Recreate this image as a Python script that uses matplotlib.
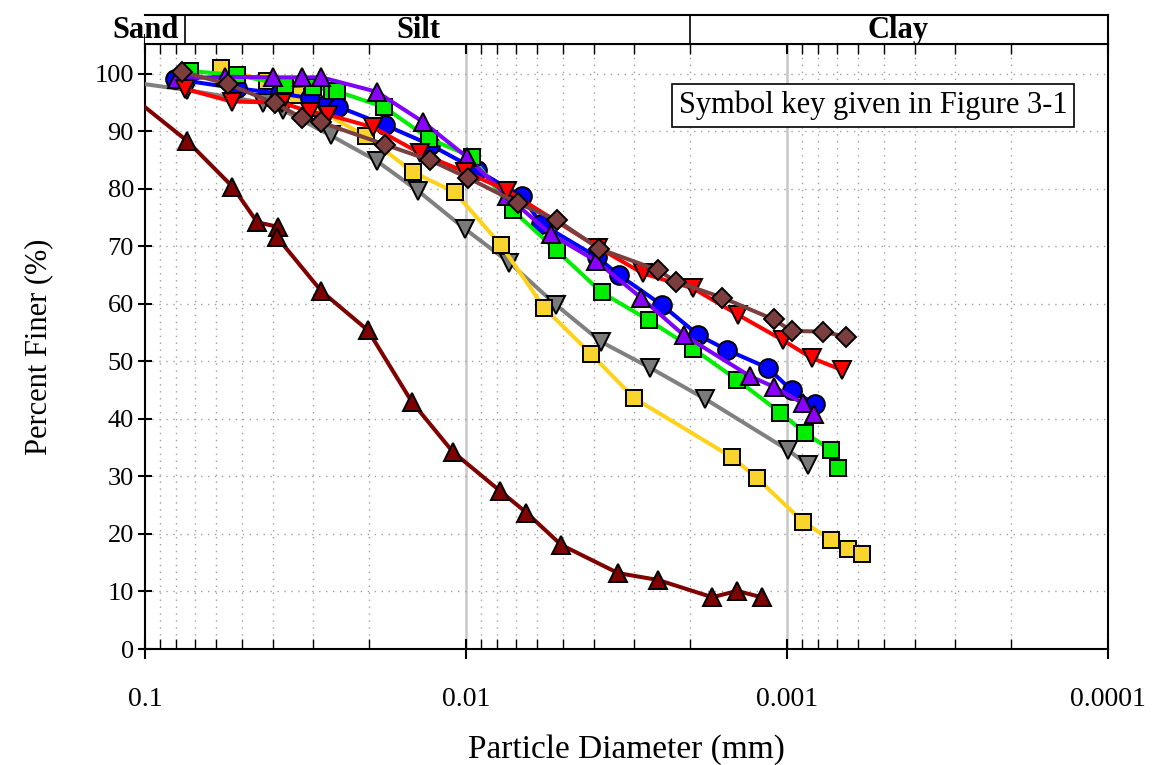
import numpy as np
import matplotlib
matplotlib.use("Agg")
import matplotlib.pyplot as plt
from matplotlib.ticker import FixedLocator, NullFormatter

plt.rcParams['font.family'] = ['Liberation Serif', 'DejaVu Serif']

# particle diameter (mm) and percent finer
maroon_d = [0.1154, 0.0741, 0.0534, 0.0447, 0.0385, 0.0389, 0.0282, 0.0202, 0.01476, 0.0110,
            0.00784, 0.00648, 0.00505, 0.00336, 0.00252, 0.00171, 0.00143, 0.00120]
maroon_p = [97.0, 88.4, 80.4, 74.2, 73.4, 71.7, 62.2, 55.4, 43.0, 34.3,
            27.5, 23.7, 18.1, 13.2, 12.0, 9.0, 10.1, 9.0]

gray_d = [0.1154, 0.0741, 0.0429, 0.0372, 0.0264, 0.0190, 0.01406, 0.0101, 0.00733,
          0.00526, 0.00379, 0.00267, 0.00180, 0.000993, 0.000861]
gray_p = [98.7, 97.2, 95.0, 93.7, 89.3, 84.9, 79.6, 73.1, 67.2,
          59.9, 53.4, 48.9, 43.5, 34.6, 32.0]

yellow_d = [0.0580, 0.0418, 0.0339, 0.0295, 0.0205, 0.01459, 0.01082, 0.00780, 0.00570,
            0.00408, 0.00299, 0.00148, 0.00124, 0.000890, 0.000731, 0.000647, 0.000585]
yellow_p = [101.1, 98.7, 96.3, 94.0, 89.2, 82.9, 79.4, 70.3, 59.3,
            51.3, 43.6, 33.3, 29.7, 22.1, 19.0, 17.4, 16.6]

blue_d = [0.0806, 0.0518, 0.0380, 0.0306, 0.0271, 0.0250, 0.01787, 0.01295, 0.00927, 0.00671,
          0.00582, 0.00392, 0.00333, 0.00245, 0.00189, 0.00154, 0.00115, 0.000967, 0.000818]
blue_p = [99.1, 97.5, 96.6, 95.8, 94.8, 94.3, 91.1, 87.7, 83.3, 78.7,
          73.9, 68.2, 65.0, 59.8, 54.6, 52.0, 48.9, 45.0, 42.6]

green_d = [0.0724, 0.0518, 0.0366, 0.0299, 0.0262, 0.0253, 0.01796, 0.0130, 0.00960, 0.00716,
           0.00522, 0.00378, 0.00270, 0.00196, 0.00143, 0.00105, 0.000879, 0.000731, 0.000692]
green_p = [100.5, 99.8, 98.1, 97.8, 97.0, 97.0, 94.2, 88.7, 85.6, 76.3,
           69.3, 62.0, 57.2, 52.2, 46.8, 41.1, 37.6, 34.6, 31.4]

purple_d = [0.0797, 0.0564, 0.0398, 0.0325, 0.0282, 0.0190, 0.01365, 0.00996, 0.00747,
            0.00543, 0.00394, 0.00285, 0.00210, 0.00130, 0.00110, 0.000890, 0.000822]
purple_p = [99.2, 99.5, 99.4, 99.4, 99.4, 96.9, 91.7, 85.6, 78.8,
            72.1, 67.5, 61.1, 54.6, 47.4, 45.6, 42.7, 40.8]

red_d = [0.0751, 0.0537, 0.0375, 0.0306, 0.0269, 0.01945, 0.0139, 0.01007, 0.00743,
         0.00387, 0.00281, 0.00196, 0.00142, 0.00103, 0.000838, 0.000673]
red_p = [97.4, 95.2, 95.0, 93.4, 92.9, 90.7, 86.2, 83.0, 79.7,
         69.8, 65.3, 62.7, 58.1, 53.7, 50.6, 48.5]

brown_d = [0.0769, 0.0550, 0.0394, 0.0325, 0.0283, 0.01787, 0.01295, 0.00984, 0.00688,
           0.00522, 0.00385, 0.00253, 0.00222, 0.00159, 0.00110, 0.000967, 0.000775, 0.000655]
brown_p = [100.4, 98.2, 94.9, 92.4, 91.6, 87.7, 85.0, 81.9, 77.5,
           74.6, 69.6, 65.9, 63.9, 61.1, 57.3, 55.3, 55.2, 54.3]

x_ticks = [0.1, 0.01, 0.001, 0.0001]
x_labels = ["0.1", "0.01", "0.001", "0.0001"]
y_ticks = list(range(0, 101, 10))
zones = ["Sand", "Silt", "Clay"]
zone_x = [0.0995, 0.0141, 0.000451]
zone_bounds = [0.075, 0.002]

fig = plt.figure(figsize=(11.57, 7.65), dpi=100)
L, R, B, T = 145/1157, 1108/1157, (765-649)/765, (765-44)/765
ax = fig.add_axes([L, B, R-L, T-B])

series = [
    (maroon_d, maroon_p, "#7f0000", "#7f0000", "^", 12.5),
    (gray_d, gray_p, "#808080", "#7a7a7a", "v", 12.5),
    (yellow_d, yellow_p, "#ffd21a", "#f8d42c", "s", 11),
    (blue_d, blue_p, "#0000ff", "#0000ff", "o", 13.5),
    (green_d, green_p, "#00ee00", "#00ee00", "s", 11),
    (purple_d, purple_p, "#8000ff", "#8a00ff", "^", 12.5),
    (red_d, red_p, "#ff0000", "#ff0000", "v", 12.5),
    (brown_d, brown_p, "#7b3f3f", "#7a3e3e", "D", 10.5),
]
z = 3
for d, p, lc, fc, m, ms in series:
    ax.plot(d, p, color=lc, lw=2.9, zorder=z)
    ax.plot(d, p, ls="none", marker=m, ms=ms, mfc=fc, mec="black", mew=1.4, zorder=z+0.5)
    z += 1

ax.set_xscale("log")
ax.set_xlim(0.1, 0.0001)
ax.set_ylim(0, 105.2)

ax.xaxis.set_major_locator(FixedLocator(x_ticks))
ax.set_xticklabels(x_labels)
ax.xaxis.set_minor_locator(FixedLocator([k*10.0**e for e in [-4, -3, -2] for k in range(2, 10)]))
ax.xaxis.set_minor_formatter(NullFormatter())
ax.set_yticks(y_ticks)

ax.grid(which="minor", axis="x", ls=(0, (1, 4)), color="#a0a0a0", lw=1)
ax.grid(which="major", axis="y", ls=(0, (1, 4)), color="#a0a0a0", lw=1)
for v in [0.01, 0.001]:
    ax.axvline(v, color="#c8c8c8", lw=1.8, zorder=1)

ax.tick_params(axis="x", which="major", direction="inout", length=14, width=1.5, top=True, labelsize=20, pad=20)
ax.tick_params(axis="x", which="minor", direction="in", length=7, width=1, top=True)
ax.tick_params(axis="y", which="major", direction="inout", length=10, width=1.5, labelsize=19, pad=3)
for s in ax.spines.values():
    s.set_linewidth(1.5)

ax.set_xlabel("Particle Diameter (mm)", fontsize=24, labelpad=16)
ax.set_ylabel("Percent Finer (%)", fontsize=22, labelpad=30)

ax.text(0.756, 0.899, "Symbol key given in Figure 3-1", transform=ax.transAxes,
        ha="center", va="center", fontsize=22, zorder=20,
        bbox=dict(boxstyle="square,pad=0.22", fc="white", ec="black", lw=1.2))

# soil class band on top
axb = fig.add_axes([L, T, R-L, (765-15)/765 - T])
axb.set_xscale("log")
axb.set_xlim(0.1, 0.0001)
axb.set_ylim(0, 1)
axb.set_xticks([])
axb.set_yticks([])
axb.minorticks_off()
axb.spines["left"].set_visible(False)
for s in ["top", "bottom", "right"]:
    axb.spines[s].set_linewidth(1.5)
for b in zone_bounds:
    axb.axvline(b, color="black", lw=1.2)
for name, xz in zip(zones, zone_x):
    axb.text(xz, 0.45, name, ha="center", va="center", fontsize=22, fontweight="bold", clip_on=False)

plt.savefig("out.png", dpi=100)
